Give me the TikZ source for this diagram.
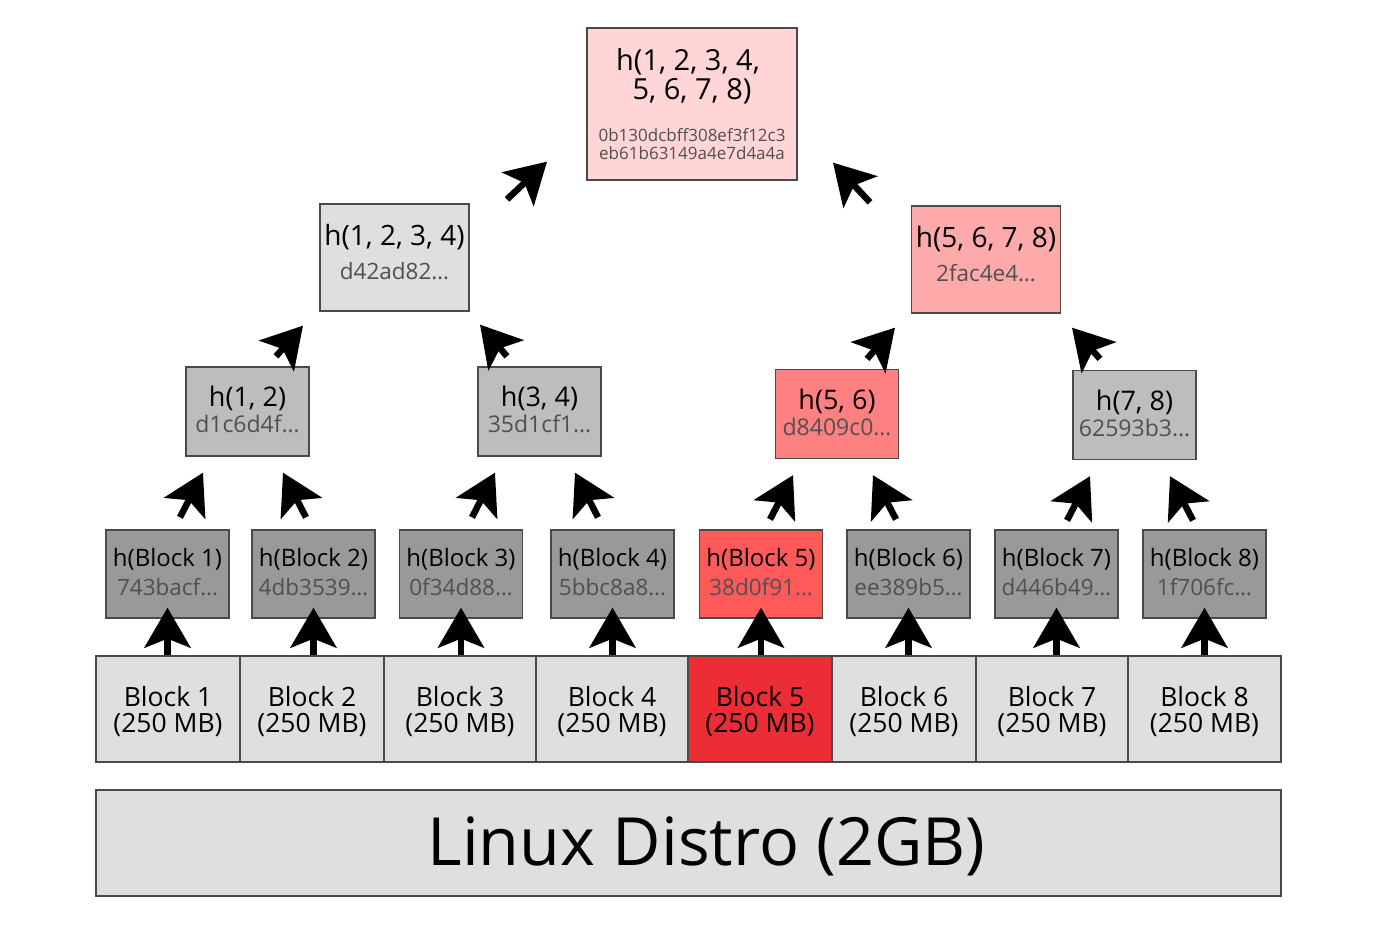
\documentclass[tikz,border=0pt]{standalone}
\usepackage{fontspec}
\setmainfont{Open Sans}
\usetikzlibrary{arrows.meta,calc}
\definecolor{lightg}{HTML}{DFDFDF}
\definecolor{midg}{HTML}{BDBDBD}
\definecolor{darkg}{HTML}{999999}
\definecolor{redA}{HTML}{EC2D35}
\definecolor{redB}{HTML}{FF5A5A}
\definecolor{redC}{HTML}{FF8080}
\definecolor{redD}{HTML}{FFAAAA}
\definecolor{redE}{HTML}{FFD5D5}
\definecolor{hexc}{HTML}{505050}
\definecolor{edge}{HTML}{4A4A4A}
\newcommand{\hx}[2]{{\fontsize{#1}{#1}\selectfont\color{hexc}#2}}
\begin{document}
\begin{tikzpicture}[x=1pt,y=-1pt,
  box/.style={draw=edge, line width=1.3pt, rectangle, inner sep=0pt, align=center},
  blk/.style={box, fill=lightg, minimum height=106pt, text depth=0pt, font=\fontsize{26.5}{26}\selectfont},
  hb/.style={box, minimum width=123pt, minimum height=88pt, text depth=5pt, font=\fontsize{24}{29}\selectfont},
  lv2/.style={box, minimum width=123pt, minimum height=89pt, text depth=4pt, font=\fontsize{27}{26}\selectfont},
  lv3/.style={box, minimum width=149pt, minimum height=107pt, text depth=12pt, font=\fontsize{28}{34}\selectfont},
  arr/.style={line width=6.5pt, -{Stealth[length=40pt,width=46pt,inset=9pt]}}]
\useasboundingbox (0,0) rectangle (1376,924);

% base
\node[box, fill=lightg, minimum width=1185pt, minimum height=106pt, text depth=4pt, font=\fontsize{66.5}{66}\selectfont] (distro) at (688.5,843) {\hspace*{36pt}Linux Distro (2GB)};

% blocks
\node[blk, minimum width=144pt] (b1) at (168,709) {Block 1\\(250 MB)};
\node[blk, minimum width=144pt] (b2) at (312,709) {Block 2\\(250 MB)};
\node[blk, minimum width=152pt] (b3) at (460,709) {Block 3\\(250 MB)};
\node[blk, minimum width=152pt] (b4) at (612,709) {Block 4\\(250 MB)};
\node[blk, minimum width=144pt, fill=redA] (b5) at (760,709) {Block 5\\(250 MB)};
\node[blk, minimum width=144pt] (b6) at (904,709) {Block 6\\(250 MB)};
\node[blk, minimum width=152pt] (b7) at (1052,709) {Block 7\\(250 MB)};
\node[blk, minimum width=153pt] (b8) at (1204.5,709) {Block 8\\(250 MB)};

% block hashes
\node[hb, fill=darkg] (h1) at (167.5,574) {h(Block 1)\\\hx{22.5}{743bacf…}};
\node[hb, fill=darkg] (h2) at (313.5,574) {h(Block 2)\\\hx{22.5}{4db3539…}};
\node[hb, fill=darkg] (h3) at (461,574) {h(Block 3)\\\hx{22.5}{0f34d88…}};
\node[hb, fill=darkg] (h4) at (612.5,574) {h(Block 4)\\\hx{22.5}{5bbc8a8…}};
\node[hb, fill=redB] (h5) at (761,574) {h(Block 5)\\\hx{22.5}{38d0f91…}};
\node[hb, fill=darkg] (h6) at (908.5,574) {h(Block 6)\\\hx{22.5}{ee389b5…}};
\node[hb, fill=darkg] (h7) at (1056.5,574) {h(Block 7)\\\hx{22.5}{d446b49…}};
\node[hb, fill=darkg] (h8) at (1204.5,574) {h(Block 8)\\\hx{22.5}{1f706fc…}};

% level 2
\node[lv2, fill=midg] (l12) at (247.5,411.5) {h(1, 2)\\\hx{23}{d1c6d4f…}};
\node[lv2, fill=midg] (l34) at (539.5,411.5) {h(3, 4)\\\hx{23}{35d1cf1…}};
\node[lv2, fill=redC] (l56) at (837,414) {h(5, 6)\\\hx{23}{d8409c0…}};
\node[lv2, fill=midg] (l78) at (1134.5,415) {h(7, 8)\\\hx{23}{62593b3…}};

% level 3
\node[lv3, fill=lightg] (l1234) at (394.5,257.5) {h(1, 2, 3, 4)\\\hx{22.5}{d42ad82…}};
\node[lv3, fill=redD] (l5678) at (986,259.5) {h(5, 6, 7, 8)\\\hx{22.5}{2fac4e4…}};

% top
\node[box, fill=redE, minimum width=210pt, minimum height=152pt, font=\fontsize{29}{29}\selectfont] (top) at (692,104)
  {\hspace*{-8pt}h(1, 2, 3, 4,\\5, 6, 7, 8)\\[13pt]\hx{17}{0b130dcbff308ef3f12c3}\\[-11pt]\hx{17}{eb61b63149a4e7d4a4a}};

% arrows blocks -> hashes
\foreach \i in {1,...,8}{
  \draw[arr] (h\i.south |- b\i.north) -- ($(h\i.south)+(0,-11)$);
}

% hashes -> level 2
\draw[arr] ($(h1.north)+(12.5,-12)$) -- ($(l12.south)+(-44.5,16)$);
\draw[arr] ($(h2.north)+(-7.5,-12)$) -- ($(l12.south)+(35.5,16)$);
\draw[arr] ($(h3.north)+(11,-12)$) -- ($(l34.south)+(-44.5,16)$);
\draw[arr] ($(h4.north)+(-14.5,-12)$) -- ($(l34.south)+(35.5,16)$);
\draw[arr] ($(h5.north)+(9,-10)$) -- ($(l56.south)+(-44,16)$);
\draw[arr] ($(h6.north)+(-12.5,-10)$) -- ($(l56.south)+(36,16)$);
\draw[arr] ($(h7.north)+(10.5,-9)$) -- ($(l78.south)+(-44.5,16)$);
\draw[arr] ($(h8.north)+(-11.5,-9)$) -- ($(l78.south)+(35.5,16)$);

% level 2 -> level 3
\draw[arr] ($(l12.north)+(28.5,-10)$) -- ($(l1234.south)+(-91.5,14)$);
\draw[arr] ($(l34.north)+(-32.5,-10)$) -- ($(l1234.south)+(85.5,13)$);
\draw[arr] ($(l56.north)+(30,-10)$) -- ($(l5678.south)+(-91,14)$);
\draw[arr] ($(l78.north)+(-34.5,-11)$) -- ($(l5678.south)+(86,14)$);

% level 3 -> top
\draw[arr] ($(l1234.north)+(112.5,-4)$) -- ($(top.south)+(-145,-19)$);
\draw[arr] ($(l5678.north)+(-116,-3)$) -- ($(top.south)+(141,-18)$);
\end{tikzpicture}
\end{document}
